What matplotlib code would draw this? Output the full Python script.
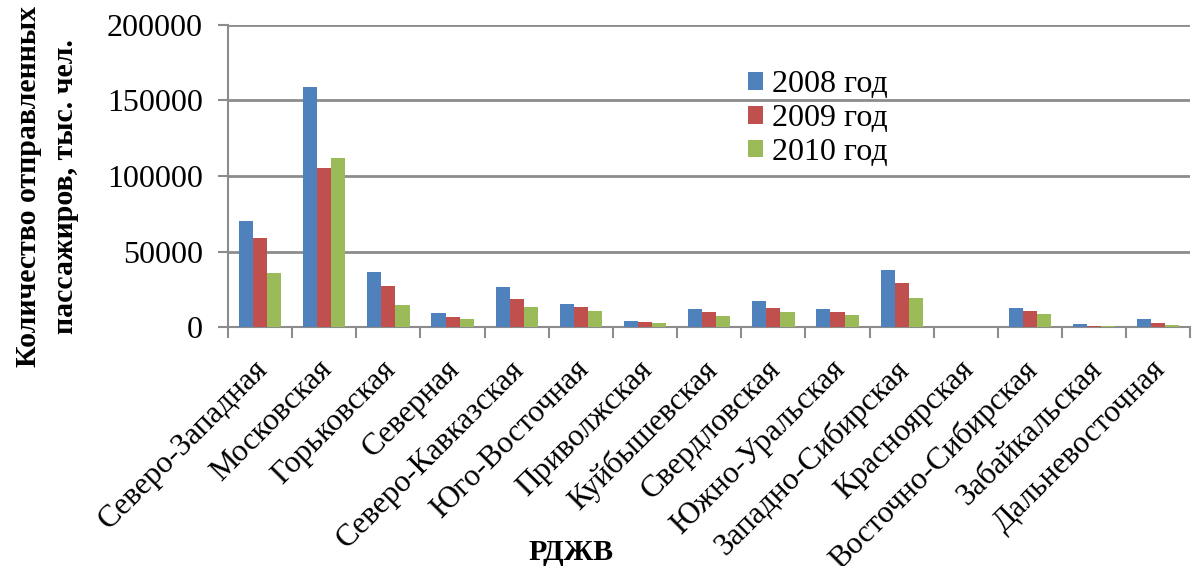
import numpy as np
import matplotlib.pyplot as plt
import matplotlib.transforms as mtransforms

# data (тыс. чел.)
roads = ["Северо-Западная", "Московская", "Горьковская", "Северная",
         "Северо-Кавказская", "Юго-Восточная", "Приволжская", "Куйбышевская",
         "Свердловская", "Южно-Уральская", "Западно-Сибирская", "Красноярская",
         "Восточно-Сибирская", "Забайкальская", "Дальневосточная"]
y2008 = [70200, 159000, 36800, 9300, 26400, 15100, 4200, 11700,
         17300, 11700, 38000, 0, 12800, 2000, 5300]
y2009 = [59100, 105200, 27000, 6600, 18900, 13100, 3500, 10200,
         12600, 10200, 29000, 0, 10600, 900, 2700]
y2010 = [35500, 112200, 14600, 5300, 13300, 10600, 2900, 7300,
         10000, 8000, 19500, 0, 8800, 800, 1700]
series_names = ["2008 год", "2009 год", "2010 год"]
colors = ["#4F81BD", "#C0504D", "#9BBB59"]

plt.rcParams["font.family"] = ["Liberation Serif", "DejaVu Serif"]

fig = plt.figure(figsize=(12, 5.66), dpi=100)
ax = fig.add_axes([0.19, 0.422, 0.802, 0.534])

x = np.arange(len(roads))
w = 0.22
for i, (vals, name, c) in enumerate(zip([y2008, y2009, y2010], series_names, colors)):
    ax.bar(x + (i - 1) * w, vals, width=w, color=c, label=name, zorder=3)

ax.set_xlim(-0.5, len(roads) - 0.5)
ax.set_ylim(0, 200000)
ax.set_yticks(range(0, 200001, 50000))
ax.yaxis.grid(True, color="#8C8C8C", linewidth=2)
ax.set_axisbelow(True)
for s in ["top", "right"]:
    ax.spines[s].set_visible(False)
for s in ["left", "bottom"]:
    ax.spines[s].set_color("#8C8C8C")
    ax.spines[s].set_linewidth(1.5)

ax.set_xticks(np.arange(len(roads) + 1) - 0.5)
ax.set_xticklabels([])
ax.set_xticks(x, minor=True)
ax.set_xticklabels(roads, minor=True, rotation=45, ha="right", rotation_mode="anchor",
                   fontsize=22.5)
ax.tick_params(axis="x", which="minor", length=0, pad=20)
ax.tick_params(axis="x", which="major", length=8, color="#8C8C8C", width=1.5)
ax.tick_params(axis="y", labelsize=23, length=7, color="#8C8C8C", width=1.5, pad=11)

# shift category labels a bit to the left
shift = mtransforms.ScaledTranslation(-0.07, 0, fig.dpi_scale_trans)
for lbl in ax.get_xticklabels(minor=True):
    lbl.set_transform(lbl.get_transform() + shift)

ax.set_ylabel("Количество отправленных\nпассажиров, тыс. чел.", fontsize=21.5,
              fontweight="bold", linespacing=1.45)
ax.yaxis.set_label_coords(-0.155, 0.465)
fig.text(0.476, 0.023, "РДЖВ", fontsize=21.5, fontweight="bold", ha="center", va="center")

ax.legend(loc="upper left", bbox_to_anchor=(0.51, 0.945), frameon=False, fontsize=23,
          handlelength=0.48, handleheight=0.48, handletextpad=0.3, labelspacing=0.15)

fig.savefig("out.png", dpi=100)
